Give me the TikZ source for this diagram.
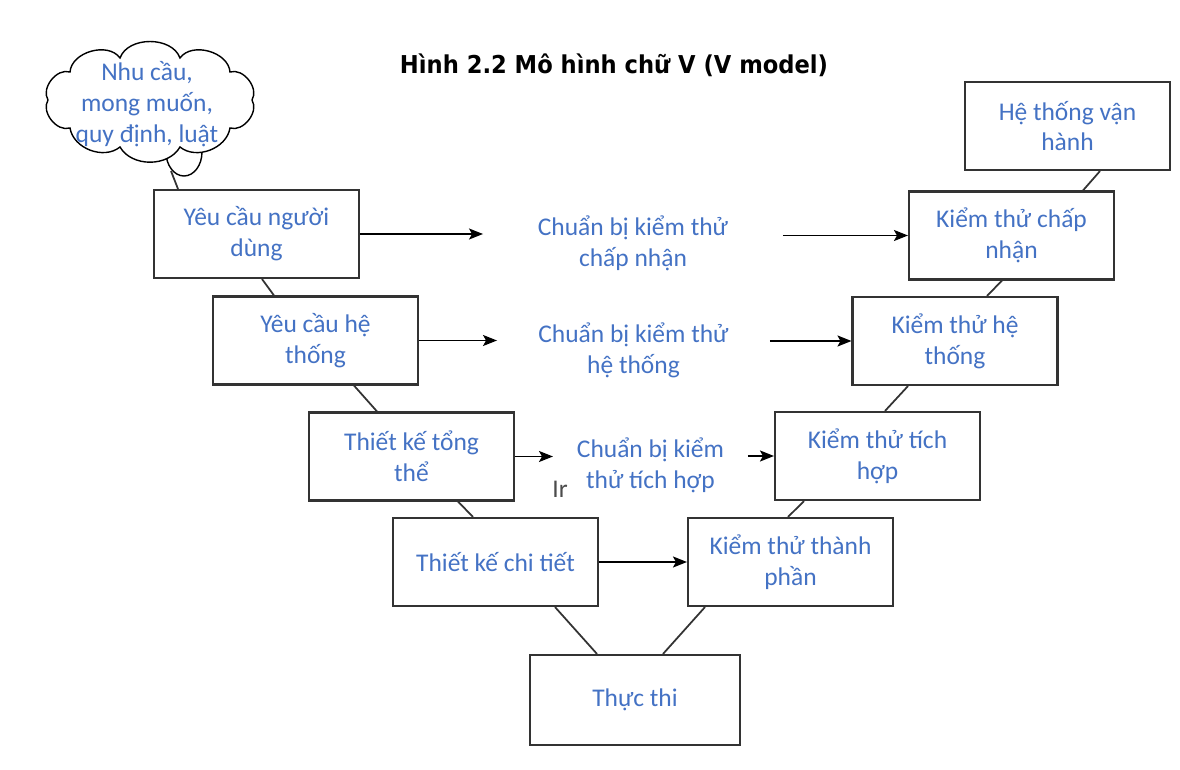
\documentclass[tikz,border=0pt]{standalone}
\usepackage{fontspec}
\setmainfont{Carlito}
\newfontfamily\titlefont{DejaVu Sans}[FakeStretch=0.92]
\usetikzlibrary{positioning,calc,arrows.meta}
\definecolor{vblue}{HTML}{4472C4}
\definecolor{vline}{HTML}{333333}

\begin{document}
\begin{tikzpicture}[x=0.02cm, y=-0.02cm,
  every node/.style={align=center, font=\fontsize{14.5}{17.5}\selectfont, text=vblue},
  stage/.style={draw=vline, line width=1.2pt, fill=white, minimum width=4.1cm, minimum height=1.76cm, inner sep=2pt},
  prep/.style={minimum height=1.2cm, inner sep=0pt, outer sep=0pt},
  link/.style={draw=vline, line width=1pt},
  flow/.style={->, draw=black, line width=1pt},
  puff/.style={bend left=70},
  >={Stealth[length=2.8mm, width=2.2mm, inset=0.6mm]}]
  \useasboundingbox (0,0) rectangle (1180,770);

  % Title
  \node[text=black, font=\titlefont\bfseries\fontsize{14}{16}\selectfont] (title) at (614,65) {Hình 2.2 Mô hình chữ V (V model)};

  % Cloud: where the requirements come from
  \draw[black, line width=0.8pt] (166,152) arc[start angle=180, end angle=0, x radius=18, y radius=24];
  \draw[black, line width=0.8pt, fill=white] (252,100) to[puff] (230,128) to[puff, bend left=60] (180,147) to[puff, bend left=60] (120,147)
    to[puff, bend left=60] (70,128) to[puff] (48,100) to[puff] (70,72) to[puff] (120,58) to[puff] (180,58)
    to[puff] (230,72) to[puff] (252,100) -- cycle;
  \node (needs) at (147,104) {Nhu cầu,\\mong muốn,\\quy định, luật};
  \coordinate (tail) at (171,171);

  % Left leg of the V
  \node[stage] (user) at (256.5,234) {Yêu cầu người\\dùng};
  \node[stage] (sys) at (315.5,340.5) {Yêu cầu hệ\\thống};
  \node[stage] (arch) at (411.5,456.5) {Thiết kế tổng\\thể};
  \node[stage] (detail) at (495.5,562) {Thiết kế chi tiết};

  % Bottom of the V
  \node[stage, minimum width=4.2cm, minimum height=1.8cm] (impl) at (635,700) {Thực thi};

  % Right leg of the V
  \node[stage] (unit) at (790.5,562) {Kiểm thử thành\\phần};
  \node[stage] (integ) at (877.5,456) {Kiểm thử tích\\hợp};
  \node[stage] (systest) at (955,341) {Kiểm thử hệ\\thống};
  \node[stage] (accept) at (1011.5,235.5) {Kiểm thử chấp\\nhận};
  \node[stage] (ops) at (1067.5,126) {Hệ thống vận\\hành};

  % Middle: test preparation
  \node[prep, minimum width=6cm] (prepaccept) at (633,243) {Chuẩn bị kiểm thử\\chấp nhận};
  \node[prep, minimum width=5.46cm] (prepsys) at (633.5,350) {Chuẩn bị kiểm thử\\hệ thống};
  \node[prep, minimum width=3.9cm] (prepinteg) at (650.5,465) {Chuẩn bị kiểm\\thử tích hợp};
  \node[text=black!70] (stray) at (560,489) {Ir};

  % Arrows across the V
  \draw[flow] (user) -- (user -| prepaccept.west);
  \draw[flow] (prepaccept.east |- accept) -- (accept);
  \draw[flow] (sys) -- (sys -| prepsys.west);
  \draw[flow] (prepsys.east |- systest) -- (systest);
  \draw[flow] (arch) -- (arch -| prepinteg.west);
  \draw[flow] (prepinteg.east |- integ) -- (integ);
  \draw[flow] (detail) -- (unit);

  % Links down and up the V
  \draw[link] (tail) -- ($(user.north)+(-78.5,0)$);
  \draw[link] ($(user.south)+(5.5,0)$) -- ($(sys.north)+(-41.5,0)$);
  \draw[link] ($(sys.south)+(38.5,0)$) -- ($(arch.north)+(-34.5,0)$);
  \draw[link] ($(arch.south)+(46.5,0)$) -- ($(detail.north)+(-22.5,0)$);
  \draw[link] ($(detail.south)+(59.5,0)$) -- ($(impl.north)+(-38,0)$);
  \draw[link] ($(unit.south)+(-85.5,0)$) -- ($(impl.north)+(28,0)$);
  \draw[link] ($(integ.south)+(-73.5,0)$) -- ($(unit.north)+(-2.5,0)$);
  \draw[link] ($(systest.south)+(-47,0)$) -- ($(integ.north)+(7.5,0)$);
  \draw[link] ($(accept.south)+(-9.5,0)$) -- ($(systest.north)+(32,0)$);
  \draw[link] ($(ops.south)+(32.5,0)$) -- ($(accept.north)+(71.5,0)$);
\end{tikzpicture}
\end{document}
